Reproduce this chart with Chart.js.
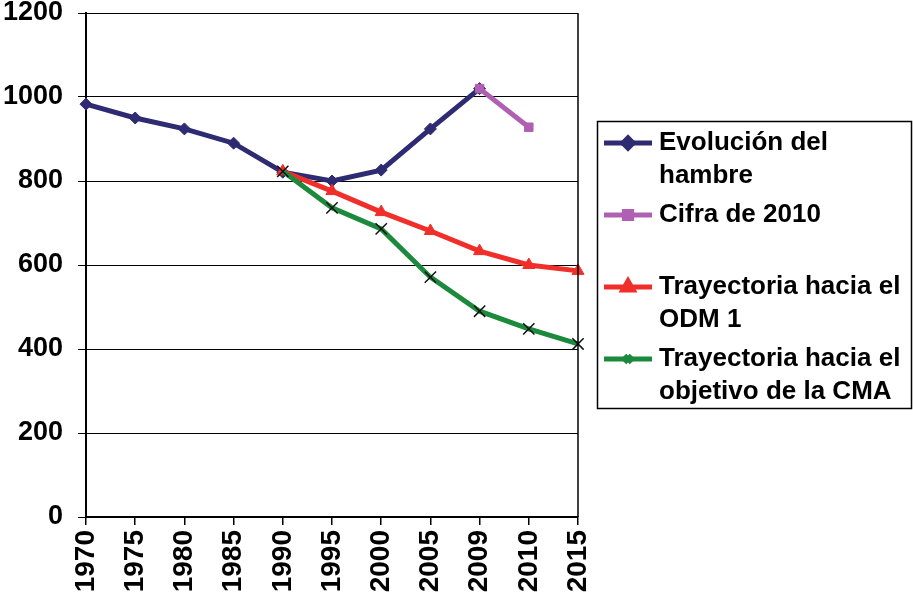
<!DOCTYPE html>
<html>
<head>
<meta charset="utf-8">
<script src="https://cdn.jsdelivr.net/npm/chart.js@4/dist/chart.umd.min.js"></script>
<style>
html,body{margin:0;padding:0;background:#fff;}
canvas{display:block;}
</style>
</head>
<body>
<canvas id="c" width="913" height="602"></canvas>
<script>
const years = ['1970','1975','1980','1985','1990','1995','2000','2005','2009','2010','2015'];
const evolucion = [983, 950, 924, 890, 821, 800, 826, 924, 1020, null, null];
const cifra2010 = [null, null, null, null, null, null, null, null, 1020, 928, null];
const odm1 = [null, null, null, null, 823, 776, 726, 681, 633, 600, 586];
const cma = [null, null, null, null, 823, 736, 686, 571, 490, 448, 412];
const seriesNames = ['Evolución del\nhambre', 'Cifra de 2010', 'Trayectoria hacia el\nODM 1', 'Trayectoria hacia el\nobjetivo de la CMA'];
const yTicks = [0, 200, 400, 600, 800, 1000, 1200];

const XFONT = {family: '"Liberation Sans", Arial, sans-serif', size: 28, weight: 'bold'};
const YFONT = {family: '"Liberation Sans", Arial, sans-serif', size: 27, weight: 'bold'};

const frame = {
  id: 'frame',
  afterDatasetsDraw(chart) {
    const ctx = chart.ctx, a = chart.chartArea;
    ctx.save();
    ctx.strokeStyle = '#000';
    ctx.lineWidth = 1.5;
    ctx.beginPath();
    ctx.moveTo(a.right, a.top);
    ctx.lineTo(a.right, a.bottom);
    ctx.stroke();
    ctx.restore();
  }
};

const legendBox = {
  id: 'legendBox',
  afterDraw(chart) {
    const ctx = chart.ctx;
    ctx.save();
    ctx.strokeStyle = '#000';
    ctx.lineWidth = 1.5;
    ctx.strokeRect(597.5, 121.5, 314, 287);
    const rows = [143, 215, 287, 359];
    chart.data.datasets.forEach((ds, i) => {
      const y = rows[i];
      ctx.strokeStyle = ds.borderColor;
      ctx.lineWidth = 5;
      ctx.beginPath();
      ctx.moveTo(604, y);
      ctx.lineTo(652, y);
      ctx.stroke();
      ctx.fillStyle = ds.borderColor;
      ctx.strokeStyle = ds.borderColor;
      Chart.helpers.drawPoint(ctx, {
        pointStyle: ds.pointStyle,
        radius: ds.pointStyle === 'crossRot' ? 5 : ds.pointRadius * 0.85,
        rotation: 0,
        borderWidth: 1.5
      }, 628, y);
      ctx.fillStyle = '#000';
      ctx.font = 'bold 26px "Liberation Sans", Arial, sans-serif';
      ctx.textBaseline = 'middle';
      ctx.textAlign = 'left';
      ds.label.split('\n').forEach((ln, k) => {
        ctx.fillText(ln, 659, y + k * 33);
      });
    });
    ctx.restore();
  }
};

new Chart(document.getElementById('c'), {
  type: 'line',
  data: {
    labels: years,
    datasets: [
      {label: seriesNames[0], data: evolucion, borderColor: '#2e2b72', backgroundColor: '#2e2b72',
       pointBackgroundColor: '#2e2b72', pointBorderColor: '#2e2b72', pointStyle: 'rectRot', pointRadius: 6,
       pointBorderWidth: 1, borderWidth: 5, order: 4},
      {label: seriesNames[1], data: cifra2010, borderColor: '#b060b2', backgroundColor: '#b060b2',
       pointBackgroundColor: '#b060b2', pointBorderColor: '#b060b2', pointStyle: 'rect', pointRadius: 6,
       pointBorderWidth: 1, borderWidth: 5, order: 3},
      {label: seriesNames[2], data: odm1, borderColor: '#f02f2a', backgroundColor: '#f02f2a',
       pointBackgroundColor: '#f02f2a', pointBorderColor: '#f02f2a', pointStyle: 'triangle', pointRadius: 7,
       pointBorderWidth: 1, borderWidth: 5, order: 2},
      {label: seriesNames[3], data: cma, borderColor: '#1c8a3c', backgroundColor: '#1c8a3c',
       pointBackgroundColor: '#1c8a3c', pointBorderColor: '#111', pointStyle: 'crossRot', pointRadius: 8,
       pointBorderWidth: 1.5, borderWidth: 5, order: 1}
    ]
  },
  options: {
    responsive: false,
    animation: false,
    spanGaps: false,
    layout: {padding: {top: 13, right: 335, left: 0, bottom: 0}},
    plugins: {legend: {display: false}, tooltip: {enabled: false}},
    elements: {line: {tension: 0}},
    scales: {
      x: {
        type: 'category',
        offset: false,
        grid: {display: true, drawOnChartArea: false, drawTicks: true, tickLength: 8, color: '#000', lineWidth: 1.5},
        border: {display: true, color: '#000', width: 2},
        ticks: {minRotation: 90, maxRotation: 90, autoSkip: false, font: XFONT, color: '#000', padding: 5},
        afterFit: s => { s.height = 85; s.paddingLeft = 0; s.paddingRight = 0; }
      },
      y: {
        min: 0, max: 1200,
        afterBuildTicks: s => { s.ticks = yTicks.map(v => ({value: v})); },
        grid: {color: '#000', lineWidth: 1, tickLength: 8},
        border: {display: true, color: '#000', width: 2},
        ticks: {font: YFONT, color: '#000', padding: 15, callback: v => String(v)},
        afterFit: s => { s.width = 86; s.paddingTop = 0; s.paddingBottom = 0; }
      }
    }
  },
  plugins: [frame, legendBox]
});
</script>
</body>
</html>
